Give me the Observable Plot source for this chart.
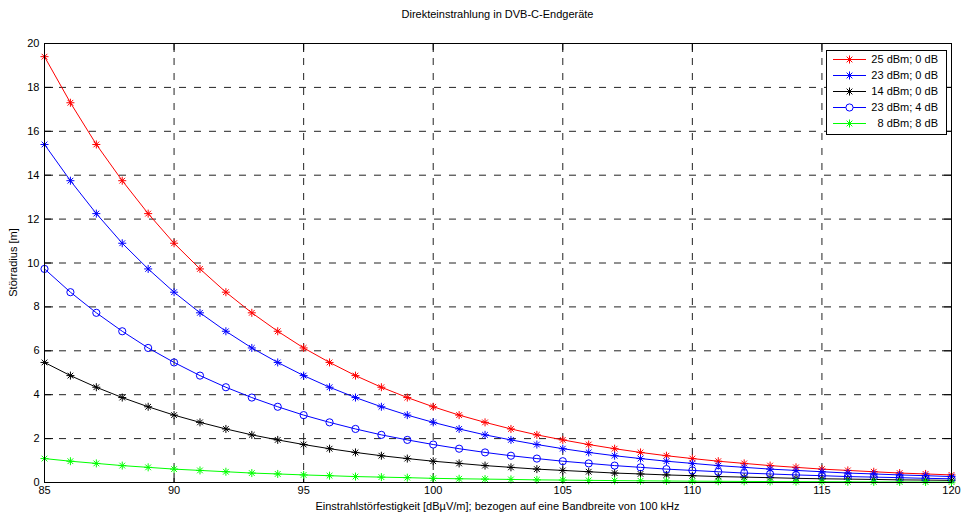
<!DOCTYPE html>
<html>
<head>
<meta charset="utf-8">
<script src="https://cdn.jsdelivr.net/npm/d3@7"></script>
<script src="https://cdn.jsdelivr.net/npm/@observablehq/plot@0.6"></script>
<style>
  html, body { margin: 0; padding: 0; background: #fff; }
  #chart svg { display: block; }
</style>
</head>
<body>
<div id="chart"></div>
<script>
const titleText = "Direkteinstrahlung in DVB-C-Endgeräte";
const xLabel = "Einstrahlstörfestigkeit [dBµV/m]; bezogen auf eine Bandbreite von 100 kHz";
const yLabel = "Störradius [m]";

const xValues = [85,86,87,88,89,90,91,92,93,94,95,96,97,98,99,100,101,102,103,104,105,106,107,108,109,110,111,112,113,114,115,116,117,118,119,120];

const s25_0 = [19.4,17.3,15.4,13.75,12.25,10.9,9.73,8.67,7.73,6.89,6.13,5.47,4.87,4.34,3.87,3.45,3.07,2.74,2.44,2.17,1.94,1.73,1.54,1.37,1.22,1.09,0.97,0.87,0.77,0.69,0.61,0.55,0.49,0.43,0.39,0.345];
const s23_0 = [15.4,13.75,12.25,10.9,9.73,8.67,7.73,6.89,6.13,5.47,4.87,4.34,3.87,3.45,3.07,2.74,2.44,2.17,1.94,1.73,1.54,1.37,1.22,1.09,0.97,0.87,0.77,0.69,0.61,0.55,0.49,0.43,0.39,0.345,0.31,0.27];
const s14_0 = [5.47,4.87,4.34,3.87,3.45,3.07,2.74,2.44,2.17,1.94,1.73,1.54,1.37,1.22,1.09,0.97,0.87,0.77,0.69,0.61,0.55,0.49,0.43,0.39,0.345,0.31,0.27,0.245,0.22,0.19,0.17,0.155,0.14,0.12,0.11,0.097];
const s23_4 = [9.73,8.67,7.73,6.89,6.13,5.47,4.87,4.34,3.87,3.45,3.07,2.74,2.44,2.17,1.94,1.73,1.54,1.37,1.22,1.09,0.97,0.87,0.77,0.69,0.61,0.55,0.49,0.43,0.39,0.345,0.31,0.27,0.245,0.22,0.19,0.17];
const s8_8 = [1.09,0.97,0.87,0.77,0.69,0.61,0.55,0.49,0.43,0.39,0.345,0.31,0.27,0.245,0.22,0.19,0.17,0.155,0.14,0.12,0.11,0.097,0.087,0.077,0.069,0.061,0.055,0.049,0.043,0.039,0.035,0.031,0.027,0.024,0.022,0.019];

const seriesNames = ["25 dBm; 0 dB", "23 dBm; 0 dB", "14 dBm; 0 dB", "23 dBm; 4 dB", "8 dBm; 8 dB"];
const seriesColors = ["#ff0000", "#0000ff", "#000000", "#0000ff", "#00ff00"];
const seriesMarkers = ["star", "star", "star", "circle", "star"];
const seriesValues = [s25_0, s23_0, s14_0, s23_4, s8_8];

const xTicks = [85,90,95,100,105,110,115,120];
const yTicks = [0,2,4,6,8,10,12,14,16,18,20];

const W = 963, H = 515;
const mL = 44, mR = 12, mT = 43, mB = 33;
const frameW = W - mL - mR, frameH = H - mT - mB;
const tickLen = 9;
const font = "'Liberation Sans', Arial, Helvetica, sans-serif";

const rows = [];
seriesValues.forEach((vals, i) => {
  vals.forEach((v, j) => rows.push({x: xValues[j], y: v, s: i}));
});

const marks = [
  Plot.gridX(xTicks, {stroke: "#222", strokeOpacity: 1, strokeWidth: 1, strokeDasharray: "7,8"}),
  Plot.gridY(yTicks, {stroke: "#222", strokeOpacity: 1, strokeWidth: 1, strokeDasharray: "7,8"}),
  // inward ticks on all four sides
  Plot.ruleX(xTicks, {stroke: "black", insetTop: frameH - tickLen}),
  Plot.ruleX(xTicks, {stroke: "black", insetBottom: frameH - tickLen}),
  Plot.ruleY(yTicks, {stroke: "black", insetRight: frameW - tickLen}),
  Plot.ruleY(yTicks, {stroke: "black", insetLeft: frameW - tickLen}),
  Plot.axisX(xTicks, {tickSize: 0, tickPadding: 4, fontSize: 11, label: null, color: "black"}),
  Plot.axisY(yTicks, {tickSize: 0, tickPadding: 5, fontSize: 11, label: null, color: "black"})
];

seriesValues.forEach((vals, i) => {
  const data = rows.filter(d => d.s === i);
  marks.push(Plot.line(data, {x: "x", y: "y", stroke: seriesColors[i], strokeWidth: 1}));
  if (seriesMarkers[i] === "circle") {
    marks.push(Plot.dot(data, {x: "x", y: "y", stroke: seriesColors[i], fill: "none", r: 3.6, strokeWidth: 1}));
  } else {
    marks.push(Plot.dot(data, {x: "x", y: "y", symbol: "plus", stroke: seriesColors[i], r: 2.7, strokeWidth: 1}));
    marks.push(Plot.dot(data, {x: "x", y: "y", symbol: "times", stroke: seriesColors[i], r: 2.7, strokeWidth: 1}));
  }
});

marks.push(Plot.frame({stroke: "black", strokeWidth: 1}));

const chart = Plot.plot({
  width: W,
  height: H,
  marginLeft: mL,
  marginRight: mR,
  marginTop: mT,
  marginBottom: mB,
  style: {fontFamily: font, fontSize: "11px", background: "white", color: "black"},
  x: {domain: [85, 120], label: null},
  y: {domain: [0, 20], label: null},
  marks
});

document.getElementById("chart").appendChild(chart);

const svg = d3.select(chart);
// title
svg.append("text")
  .attr("x", mL + frameW / 2).attr("y", 18)
  .attr("text-anchor", "middle")
  .attr("font-family", font).attr("font-size", 11).attr("fill", "black")
  .text(titleText);
// x label
svg.append("text")
  .attr("x", mL + frameW / 2).attr("y", 510)
  .attr("text-anchor", "middle")
  .attr("font-family", font).attr("font-size", 11).attr("fill", "black")
  .text(xLabel);
// y label
svg.append("text")
  .attr("transform", `translate(17,${mT + frameH / 2}) rotate(-90)`)
  .attr("text-anchor", "middle")
  .attr("font-family", font).attr("font-size", 11).attr("fill", "black")
  .text(yLabel);

// legend
const lg = svg.append("g");
const lx0 = 826, ly0 = 50, lw = 120, lh = 84;
lg.append("rect").attr("x", lx0 + 0.5).attr("y", ly0 + 0.5).attr("width", lw).attr("height", lh)
  .attr("fill", "white").attr("stroke", "black").attr("stroke-width", 1);
const symPlus = d3.symbol(d3.symbolPlus, Math.PI * 2.7 * 2.7)();
const symTimes = d3.symbol(d3.symbolTimes, Math.PI * 2.7 * 2.7)();
seriesNames.forEach((name, i) => {
  const yy = ly0 + 9.5 + i * 16;
  lg.append("line").attr("x1", lx0 + 7).attr("x2", lx0 + 40).attr("y1", yy).attr("y2", yy)
    .attr("stroke", seriesColors[i]).attr("stroke-width", 1);
  const cx = lx0 + 23.5;
  if (seriesMarkers[i] === "circle") {
    lg.append("circle").attr("cx", cx).attr("cy", yy).attr("r", 3.6)
      .attr("fill", "white").attr("stroke", seriesColors[i]);
  } else {
    lg.append("path").attr("d", symPlus).attr("transform", `translate(${cx},${yy})`)
      .attr("fill", "none").attr("stroke", seriesColors[i]);
    lg.append("path").attr("d", symTimes).attr("transform", `translate(${cx},${yy})`)
      .attr("fill", "none").attr("stroke", seriesColors[i]);
  }
  lg.append("text").attr("x", lx0 + 112).attr("y", yy).attr("dy", "0.35em")
    .attr("text-anchor", "end")
    .attr("font-family", font).attr("font-size", 11).attr("fill", "black")
    .text(name);
});
</script>
</body>
</html>
